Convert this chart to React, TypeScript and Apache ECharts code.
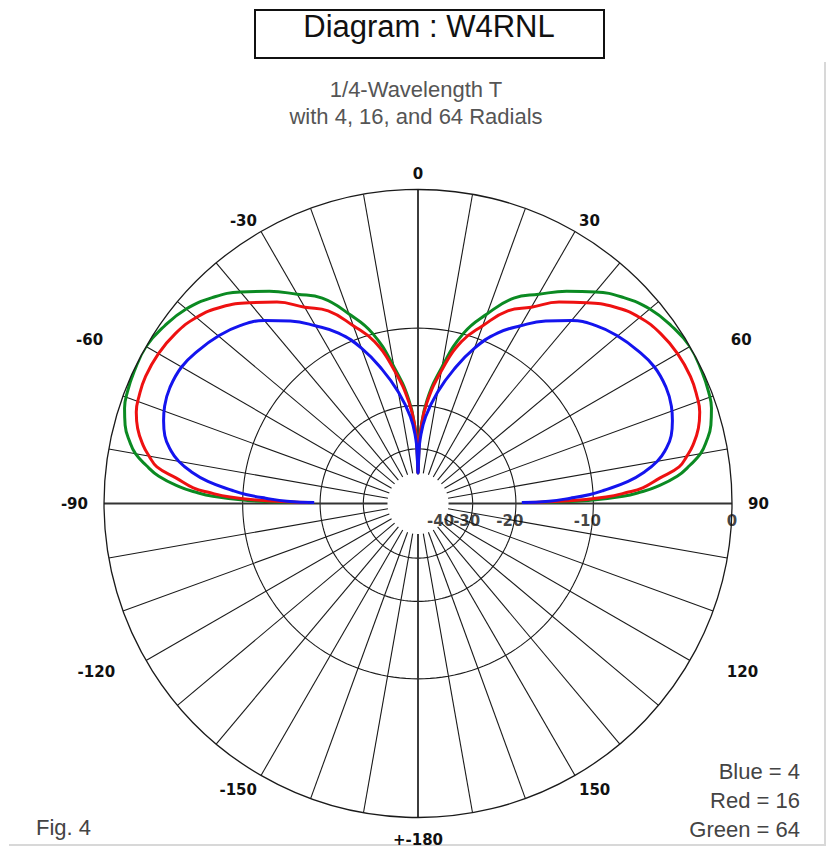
import { useEffect, useRef } from 'react';
import * as echarts from 'echarts';

// Elevation angles (degrees above horizon) and relative gain (dB) per radial count
const ELEVATION = [0.5, 1, 2, 3, 4, 6, 8, 10, 12, 15, 18, 21, 25, 30, 35, 40, 45, 50, 55, 60, 65, 70, 75, 80, 85, 88, 89, 90];
const BLUE_4 = [-19, -15, -12.4, -10.3, -9.0, -6.8, -5.4, -4.4, -3.75, -3.1, -2.75, -2.5, -2.35, -2.4, -2.75, -3.2, -3.8, -4.7, -5.9, -7.3, -8.8, -11.0, -14.0, -17.5, -22, -27, -32, -40];
const RED_16 = [-18, -12.5, -8.8, -7.0, -5.7, -4.4, -3.0, -2.4, -1.9, -1.35, -1.0, -0.85, -0.75, -0.8, -1.0, -1.4, -2.1, -3.1, -4.2, -5.6, -6.7, -8.7, -10.8, -14.5, -19.5, -25, -30, -40];
const GREEN_64 = [-17, -10.5, -7.3, -5.8, -4.7, -3.2, -2.3, -1.55, -1.1, -0.6, -0.3, -0.15, -0.05, 0, -0.25, -0.63, -1.3, -2.2, -3.3, -4.5, -5.6, -7.6, -9.9, -14, -19, -25, -30, -40];

// Radial (dB) tick labels and grid rings, ARRL log scale
const RADIAL_TICK_DB = [-40, -30, -20, -10, 0];
const RING_DB = [-10, -20, -30];
const HOLE_DB = -40;
const SPOKE_STEP = 10;
const TITLE = 'Diagram : W4RNL';
const SUBTITLE = ['1/4-Wavelength T', 'with 4, 16, and 64 Radials'];
const LEGEND = ['Blue = 4', 'Red = 16', 'Green = 64'];
const FIG = 'Fig. 4';

const toR = (db: number) => Math.pow(0.89, -db / 2);

function lobe(db: number[]) {
  const left = ELEVATION.map((e, i) => [toR(db[i]), 270 + e]);
  const right = ELEVATION.map((e, i) => [toR(db[i]), 450 - e]).reverse();
  return [...left, ...right.slice(1)];
}

export default function App() {
  const ref = useRef<HTMLDivElement>(null);
  useEffect(() => {
    if (!ref.current) return;
    const chart = echarts.init(ref.current, undefined, { renderer: 'svg' });
    const base = { fontFamily: 'DejaVu Sans', fontWeight: 'bold' as const, fontSize: 15, color: '#111' };
    const grid = '#1a1a1a';

    const series: any[] = [];
    RING_DB.forEach((db) => {
      const pts: number[][] = [];
      for (let a = 90; a <= 450; a += 2) pts.push([toR(db), a]);
      series.push({
        type: 'line', coordinateSystem: 'polar', data: pts, symbol: 'none', silent: true,
        lineStyle: { color: grid, width: 1.1 }, z: 1,
      });
    });
    for (let a = 90; a < 450; a += SPOKE_STEP) {
      const cardinal = a % 90 === 0;
      series.push({
        type: 'line', coordinateSystem: 'polar', data: [[toR(HOLE_DB), a], [1, a]], symbol: 'none', silent: true,
        lineStyle: { color: cardinal ? '#333' : grid, width: cardinal ? 1.9 : 1.1 }, z: 1,
      });
    }
    const curves: [string, number[], string][] = [
      ['Green = 64', GREEN_64, '#0b8a22'],
      ['Red = 16', RED_16, '#ee1111'],
      ['Blue = 4', BLUE_4, '#1414ee'],
    ];
    curves.forEach(([name, db, color]) => {
      series.push({
        name, type: 'line', coordinateSystem: 'polar', data: lobe(db), symbol: 'none', silent: true,
        smooth: 0.45,
        lineStyle: { color, width: 3 }, z: 3,
      });
    });
    // dB scale labels along the 90-degree (east) radius
    series.push({
      type: 'scatter', coordinateSystem: 'polar', silent: true, z: 6,
      data: RADIAL_TICK_DB.map((db) => ({ value: [toR(db), 450], db })),
      symbolSize: 1, itemStyle: { color: 'rgba(0,0,0,0)' },
      label: {
        show: true, position: 'bottom', distance: 9, ...base,
        formatter: (p: any) => (p.data.db === 0 ? `{c|0}` : p.data.db === -40 ? `{f|-40}` : `{s|${p.data.db}}`),
        rich: {
          c: { ...base },
          s: { ...base, padding: [0, 12, 0, 0] },
          f: { ...base, padding: [0, 16, 0, 0] },
        },
      },
    });

    const angleLabel = (v: number) => {
      const a = ((v % 360) + 360) % 360;
      if (v === 450) return '';
      const txt = a === 180 ? '+-180' : a > 180 ? String(a - 360) : String(a);
      const tag: Record<number, string> = { 30: 'd30', 330: 'd30', 60: 'r60', 90: 'r90', 120: 'r120', 180: 'b180', 240: 'l120', 270: 'l90', 300: 'l60' };
      return `{${tag[a] || 'c'}|${txt}}`;
    };

    chart.setOption({
      animation: false,
      backgroundColor: '#fff',
      polar: { center: [418, 503.5], radius: 314 },
      angleAxis: {
        type: 'value', min: 90, max: 450, interval: 30, startAngle: 0, clockwise: true,
        axisLine: { show: true, lineStyle: { color: grid, width: 1.3 } },
        axisTick: { show: false },
        splitLine: { show: false },
        axisLabel: {
          margin: 8, formatter: angleLabel, ...base,
          rich: {
            c: { ...base },
            d30: { ...base, padding: [0, 0, -4, 0] },
            r60: { ...base, padding: [0, 0, -5, 34] },
            l60: { ...base, padding: [0, 36, -5, 0] },
            r90: { ...base, padding: [0, 0, 0, 8] },
            l90: { ...base, padding: [0, 8, 0, 0] },
            r120: { ...base, padding: [0, 0, 0, 30] },
            l120: { ...base, padding: [0, 24, 0, 0] },
            b180: { ...base, padding: [7, 0, 0, 0] },
          },
        },
        z: 5,
      },
      radiusAxis: {
        type: 'value', min: 0, max: 1,
        axisLine: { show: false }, axisTick: { show: false }, splitLine: { show: false },
        axisLabel: { show: false },
      },
      series,
      graphic: [
        { type: 'rect', shape: { x: 255, y: 10, width: 349, height: 48 }, style: { fill: '#fff', stroke: '#111', lineWidth: 2 } },
        { type: 'text', x: 429, y: 26, style: { text: TITLE, font: '31px "Liberation Sans"', fill: '#111', textAlign: 'center', textVerticalAlign: 'middle' } },
        { type: 'text', x: 416, y: 89, style: { text: SUBTITLE[0], font: '22px "Liberation Sans"', fill: '#555', textAlign: 'center', textVerticalAlign: 'middle' } },
        { type: 'text', x: 416, y: 116, style: { text: SUBTITLE[1], font: '22px "Liberation Sans"', fill: '#555', textAlign: 'center', textVerticalAlign: 'middle' } },
        ...LEGEND.map((t, i) => ({
          type: 'text', x: 800, y: 771 + i * 29,
          style: { text: t, font: '22px "Liberation Sans"', fill: '#444', textAlign: 'right', textVerticalAlign: 'middle' },
        })),
        { type: 'text', x: 36, y: 827, style: { text: FIG, font: '22px "Liberation Sans"', fill: '#444', textAlign: 'left', textVerticalAlign: 'middle' } },
        { type: 'line', shape: { x1: 825, y1: 62, x2: 825, y2: 845 }, style: { stroke: '#d8d8d8', lineWidth: 2 } },
        { type: 'line', shape: { x1: 9, y1: 845, x2: 826, y2: 845 }, style: { stroke: '#d8d8d8', lineWidth: 2 } },
      ],
    });
    return () => chart.dispose();
  }, []);
  return <div ref={ref} style={{ position: 'fixed', left: 0, top: 0, width: 830, height: 848, background: '#fff' }} />;
}
